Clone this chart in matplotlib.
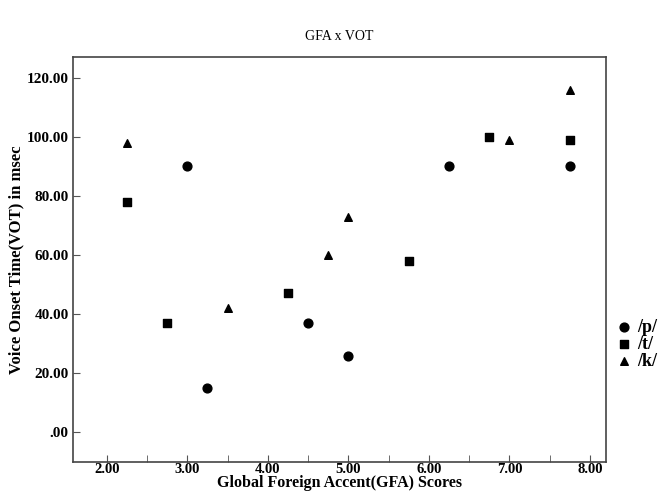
import matplotlib
matplotlib.use('Agg')
import matplotlib.pyplot as plt

# GFA scores and VOT (msec)
p_gfa = [3.00, 3.25, 4.50, 5.00, 6.25, 7.75]
p_vot = [90, 15, 37, 26, 90, 90]
t_gfa = [2.25, 2.75, 4.25, 5.75, 6.75, 7.75]
t_vot = [78, 37, 47, 58, 100, 99]
k_gfa = [2.25, 3.50, 4.75, 5.00, 7.00, 7.75]
k_vot = [98, 42, 60, 73, 99, 116]

x_ticks = [2, 3, 4, 5, 6, 7, 8]
y_ticks = [0, 20, 40, 60, 80, 100, 120]

plt.rcParams['font.family'] = ['Liberation Serif', 'DejaVu Serif']

fig = plt.figure(figsize=(6.72, 4.92), dpi=100)
ax = fig.add_axes([73 / 672, 1 - 462 / 492, (606 - 73) / 672, (462 - 57) / 492])

ax.scatter(p_gfa, p_vot, marker='o', s=40, color='black', label='/p/')
ax.scatter(t_gfa, t_vot, marker='s', s=36, color='black', label='/t/')
ax.scatter(k_gfa, k_vot, marker='^', s=30, color='black', label='/k/')

ax.set_xlim(1.58, 8.2)
ax.set_ylim(-10, 127)
ax.set_xticks(x_ticks)
ax.set_xticks([v + 0.5 for v in x_ticks[:-1]], minor=True)
ax.set_xticklabels(['%.2f' % v for v in x_ticks], fontweight='bold', fontsize=10.5)
ax.set_yticks(y_ticks)
ax.set_yticklabels(['.00' if v == 0 else '%.2f' % v for v in y_ticks], fontweight='bold', fontsize=11)
ax.tick_params(axis='x', which='both', direction='in', length=5, color='#555555', pad=1)
ax.tick_params(axis='y', direction='in', length=5, color='#555555', pad=3)
for sp in ax.spines.values():
    sp.set_color('#444444')
    sp.set_linewidth(1.2)

ax.set_title('GFA x VOT', fontsize=10, pad=12)
ax.set_xlabel('Global Foreign Accent(GFA) Scores', fontweight='bold', fontsize=11.5, labelpad=-1)
ax.set_ylabel('Voice Onset Time(VOT) in msec', fontweight='bold', fontsize=12, labelpad=2)

fig.legend(loc='upper left', bbox_to_anchor=(608 / 672, 1 - 312 / 492), frameon=False,
           prop={'weight': 'bold', 'size': 13}, handletextpad=0.2, labelspacing=0.0,
           handlelength=1.0, borderaxespad=0)

fig.savefig('out.png', dpi=100)
